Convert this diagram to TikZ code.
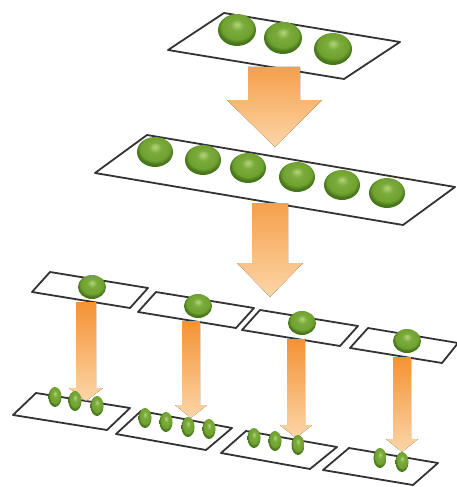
\documentclass[tikz,border=0pt]{standalone}
\usepackage{amsmath, amssymb}

\definecolor{peahi}{RGB}{178,214,120}
\definecolor{peamid}{RGB}{112,162,48}
\definecolor{peadark}{RGB}{72,118,28}
\definecolor{flowdark}{RGB}{244,146,52}
\definecolor{flowlight}{RGB}{252,214,168}
\pgfdeclareradialshading{pea}{\pgfpoint{0bp}{9bp}}{color(0bp)=(peahi); color(9bp)=(peamid!85!peahi); color(20bp)=(peamid); color(25bp)=(peadark); color(50bp)=(peadark)}

\begin{document}
\begin{tikzpicture}[x=1pt,y=-1pt,
    plane/.style={draw=black!80, line width=1.8pt, line join=round, fill=white},
    flow/.style={top color=flowdark, bottom color=flowlight, draw=none},
    bigflow/.style={top color=flowdark!80!flowlight, bottom color=flowlight},
    pea/.style={shading=pea}]
      \useasboundingbox (0,0) rectangle (457,487);
      % planes
      \draw [plane] (168,50) -- (224,13) -- (400,42) -- (344,79) -- cycle;
      \draw [plane] (95,173) -- (147,135) -- (455,187) -- (403,225) -- cycle;
      \draw [plane] (32,292) -- (50,272) -- (148,288) -- (130,308) -- cycle;
      \draw [plane] (138,312) -- (156,292) -- (254,308) -- (236,328) -- cycle;
      \draw [plane] (242,330) -- (260,310) -- (358,326) -- (340,346) -- cycle;
      \draw [plane] (350,348) -- (368,328) -- (458,343) -- (442,363) -- cycle;
      \draw [plane] (13,415) -- (36,393) -- (130,408) -- (107,430) -- cycle;
      \draw [plane] (116,434) -- (141,411) -- (232,428) -- (206,450) -- cycle;
      \draw [plane] (221,453) -- (246,431) -- (337,447) -- (310,469) -- cycle;
      \draw [plane] (323,470) -- (349,448) -- (438,463) -- (413,485) -- cycle;
      % arrows
      \fill [bigflow] (248,67) -- (300,67) -- (300,100) -- (322,100) -- (275,147) -- (227,100) -- (248,100) -- cycle;
      \fill [bigflow] (252,203) -- (288,203) -- (288,263) -- (303,263) -- (270,297) -- (237,263) -- (252,263) -- cycle;
      \fill [flow] (76,302) -- (96,302) -- (96,388) -- (103,388) -- (86,401) -- (69,388) -- (76,388) -- cycle;
      \fill [flow] (182,321) -- (200,321) -- (200,405) -- (207,405) -- (191,418) -- (175,405) -- (182,405) -- cycle;
      \fill [flow] (287,339) -- (305,339) -- (305,425) -- (312,425) -- (296,438) -- (280,425) -- (287,425) -- cycle;
      \fill [flow] (393,357) -- (411,357) -- (411,439) -- (418,439) -- (402,452) -- (386,439) -- (393,439) -- cycle;
      % peas
      \shade [pea] (237,30) ellipse [x radius=19pt, y radius=16pt];
      \shade [pea] (283,38) ellipse [x radius=19pt, y radius=16pt];
      \shade [pea] (333,49) ellipse [x radius=19pt, y radius=16pt];
      \shade [pea] (155,152) ellipse [x radius=18pt, y radius=15pt];
      \shade [pea] (203,160) ellipse [x radius=18pt, y radius=15pt];
      \shade [pea] (248,168) ellipse [x radius=18pt, y radius=15pt];
      \shade [pea] (297,177) ellipse [x radius=18pt, y radius=15pt];
      \shade [pea] (342,185) ellipse [x radius=18pt, y radius=15pt];
      \shade [pea] (387,193) ellipse [x radius=18pt, y radius=15pt];
      \shade [pea] (92,287) ellipse [x radius=14pt, y radius=12pt];
      \shade [pea] (198,306) ellipse [x radius=14pt, y radius=12pt];
      \shade [pea] (302,323) ellipse [x radius=14pt, y radius=12pt];
      \shade [pea] (407,341) ellipse [x radius=14pt, y radius=12pt];
      \shade [pea] (55,397) ellipse [x radius=6.5pt, y radius=10pt];
      \shade [pea] (75,401) ellipse [x radius=6.5pt, y radius=10pt];
      \shade [pea] (97,406) ellipse [x radius=6.5pt, y radius=10pt];
      \shade [pea] (145,418) ellipse [x radius=6.5pt, y radius=10pt];
      \shade [pea] (166,422) ellipse [x radius=6.5pt, y radius=10pt];
      \shade [pea] (188,427) ellipse [x radius=6.5pt, y radius=10pt];
      \shade [pea] (209,429) ellipse [x radius=6.5pt, y radius=10pt];
      \shade [pea] (254,438) ellipse [x radius=6.5pt, y radius=10pt];
      \shade [pea] (275,441) ellipse [x radius=6.5pt, y radius=10pt];
      \shade [pea] (298,445) ellipse [x radius=6.5pt, y radius=10pt];
      \shade [pea] (380,458) ellipse [x radius=6.5pt, y radius=10pt];
      \shade [pea] (402,462) ellipse [x radius=6.5pt, y radius=10pt];
      \end{tikzpicture}
\end{document}
